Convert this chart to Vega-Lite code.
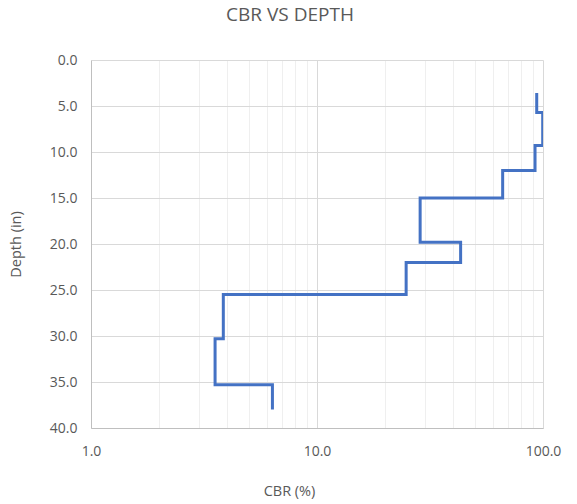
{
  "$schema": "https://vega.github.io/schema/vega-lite/v6.json",
  "autosize": "none",
  "width": 452,
  "height": 368,
  "padding": {"left": 91, "top": 60, "right": 34, "bottom": 76},
  "background": "white",
  "title": {
    "text": "CBR VS DEPTH",
    "anchor": "middle",
    "dx": -27,
    "offset": 28,
    "font": "Open Sans",
    "fontSize": 19,
    "fontWeight": "normal",
    "color": "#595959"
  },
  "config": {
    "view": {"stroke": null},
    "axis": {
      "labelFont": "Open Sans",
      "titleFont": "Open Sans",
      "labelFontSize": 14,
      "titleFontSize": 14.5,
      "labelColor": "#595959",
      "titleColor": "#595959",
      "titleFontWeight": "normal",
      "ticks": false,
      "domainColor": "#bfbfbf",
      "gridColor": "#d9d9d9"
    }
  },
  "data": {
    "values": [
      {"cbr": 93.8, "depth": 3.6},
      {"cbr": 99.7, "depth": 5.7},
      {"cbr": 92.2, "depth": 9.3},
      {"cbr": 66.3, "depth": 12.0},
      {"cbr": 28.6, "depth": 15.0},
      {"cbr": 43.2, "depth": 19.8},
      {"cbr": 24.8, "depth": 22.0},
      {"cbr": 3.85, "depth": 25.5},
      {"cbr": 3.54, "depth": 30.3},
      {"cbr": 6.35, "depth": 35.3},
      {"cbr": 6.35, "depth": 38.0}
    ]
  },
  "mark": {"type": "line", "interpolate": "step-before", "color": "#4472C4", "strokeWidth": 3, "clip": true},
  "encoding": {
    "x": {
      "field": "cbr",
      "type": "quantitative",
      "scale": {"type": "log", "domain": [1, 100], "nice": false},
      "axis": {
        "title": "CBR (%)",
        "values": [1, 2, 3, 4, 5, 6, 7, 8, 9, 10, 20, 30, 40, 50, 60, 70, 80, 90, 100],
        "labelExpr": "datum.value == 1 || datum.value == 10 || datum.value == 100 ? format(datum.value, '.1f') : ''",
        "labelPadding": 16,
        "labelFlush": false,
        "labelBound": false,
        "labelOverlap": false,
        "gridColor": {"condition": {"test": "datum.value == 10 || datum.value == 100", "value": "#d9d9d9"}, "value": "#efefef"},
        "titleX": 198,
        "titleY": 67,
        "titleAlign": "center",
        "titleBaseline": "alphabetic"
      }
    },
    "y": {
      "field": "depth",
      "type": "quantitative",
      "sort": null,
      "scale": {"domain": [0, 40], "reverse": true, "nice": false},
      "axis": {
        "title": "Depth (in)",
        "values": [0, 5, 10, 15, 20, 25, 30, 35, 40],
        "format": ".1f",
        "labelPadding": 14,
        "labelFlush": false,
        "titleX": -68,
        "titleAngle": -90
      }
    },
    "order": {"field": "depth", "type": "quantitative"}
  }
}
